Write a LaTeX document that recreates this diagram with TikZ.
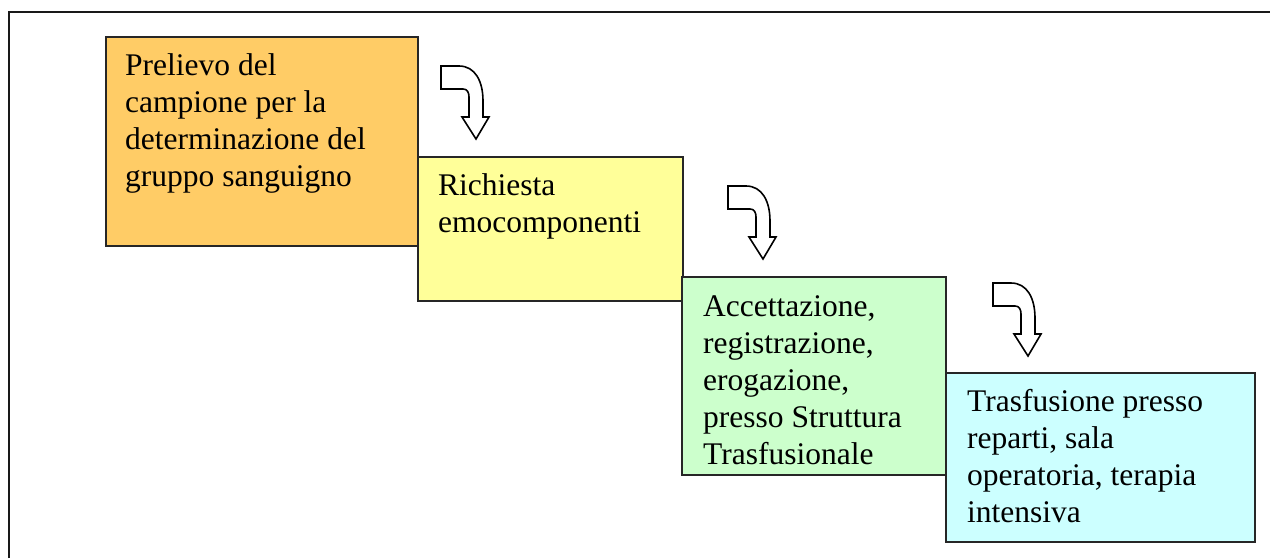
\documentclass[tikz,border=0pt]{standalone}
\usepackage{fontspec}
\setmainfont{Liberation Serif}
\usetikzlibrary{calc}
\definecolor{cOrange}{HTML}{FFCC66}
\definecolor{cYellow}{HTML}{FFFF99}
\definecolor{cGreen}{HTML}{CCFFCC}
\definecolor{cCyan}{HTML}{CCFFFF}
\tikzset{
  stagebox/.style={draw=black!85, line width=1.5pt, rectangle, inner sep=0pt, anchor=north west},
  stagetext/.style={anchor=base west, inner sep=0pt, text width=300pt, align=flush left,
    font=\fontsize{31.5}{37}\selectfont},
  frameline/.style={draw=black!90, line width=2.2pt},
  bentarrow/.pic={
    \draw[line width=1.6pt, line join=miter, fill=white]
      (0,0) -- (18,0) .. controls (34,0) and (42,15) .. (42,35) -- (42,51)
      -- (48,51) -- (35,73) -- (21,51) -- (28,51) -- (28,31)
      .. controls (28,26) and (26,23) .. (22,23) -- (0,23) -- cycle;
  }
}
\begin{document}
\begin{tikzpicture}[x=1pt, y=-1pt]
\useasboundingbox (0,0) rectangle (1270,558);
\fill[white] (0,0) rectangle (1270,558);
\coordinate (fa) at (9,558);
\coordinate (fb) at (9,12);
\coordinate (fc) at (1270,12);
\draw[frameline] (fa) -- (fb) -- (fc);

\node[stagebox, fill=cOrange, minimum width=312pt, minimum height=209pt] (b1) at (105,36) {};
\node[stagebox, fill=cYellow, minimum width=265pt, minimum height=144pt] (b2) at (417,156) {};
\node[stagebox, fill=cGreen, minimum width=264pt, minimum height=198pt] (b3) at (681,276) {};
\node[stagebox, fill=cCyan, minimum width=309pt, minimum height=169pt] (b4) at (945,372) {};

\node[stagetext] (t1) at ($(b1.north west)+(20,39)$) {Prelievo del\\campione per la\\determinazione del\\gruppo sanguigno};
\node[stagetext] (t2) at ($(b2.north west)+(21,39)$) {Richiesta\\emocomponenti};
\node[stagetext] (t3) at ($(b3.north west)+(22,40)$) {Accettazione,\\registrazione,\\erogazione,\\presso Struttura\\Trasfusionale};
\node[stagetext] (t4) at ($(b4.north west)+(22,39)$) {Trasfusione presso\\reparti, sala\\operatoria, terapia\\intensiva};

\pic at (441,66) {bentarrow};
\pic at (728,186) {bentarrow};
\pic at (993,283) {bentarrow};
\end{tikzpicture}
\end{document}
